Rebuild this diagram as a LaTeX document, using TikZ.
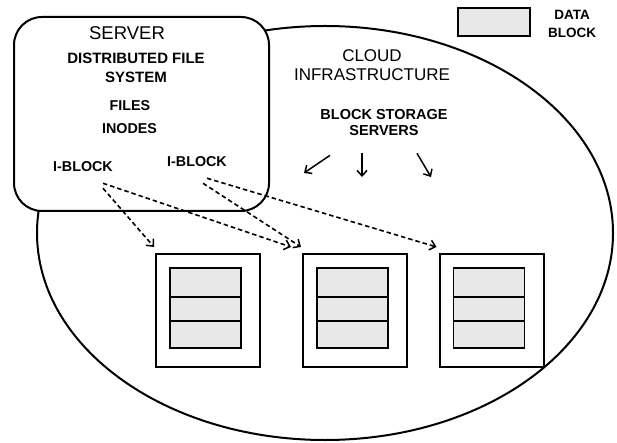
\documentclass[tikz,border=0pt]{standalone}
\usepackage{fontspec}
\setmainfont{Liberation Sans}
\usetikzlibrary{arrows.meta,calc,shapes.geometric}
\begin{document}
\begin{tikzpicture}[x=1pt,y=-1pt,
  outline/.style={draw=black,line width=2pt},
  lbl/.style={font=\fontsize{14.3}{16}\selectfont\bfseries,inner sep=0pt,align=center},
  big/.style={font=\fontsize{18.5}{19}\selectfont,inner sep=0pt,align=center},
  cell/.style={draw=black,line width=1.7pt,fill=black!9,inner sep=0pt,minimum width=71pt},
  storebox/.style={draw=black,line width=2pt,fill=white,inner sep=0pt,minimum width=104pt,minimum height=113pt},
  solidarrow/.style={line width=1.5pt,-{Straight Barb[length=5.5pt,width=10pt,line width=1.5pt]}},
  dasharrow/.style={line width=1.6pt,dash pattern=on 4.5pt off 3pt,-{Straight Barb[length=5.5pt,width=10pt,line width=1.5pt]}}
]
\useasboundingbox (0,0) rectangle (617,443);
% cloud
\node[outline,ellipse,minimum width=576pt,minimum height=414pt,inner sep=0pt] (cloud) at (325,233) {};
% server
\node[outline,fill=white,rounded corners=28pt,minimum width=255pt,minimum height=194pt,inner sep=0pt] (server) at (141.5,114) {};
\node[big] (srvtitle) at (127,33) {SERVER};
\node[lbl,font=\fontsize{15}{19}\selectfont\bfseries] (dfs) at (136,67.5) {DISTRIBUTED FILE\\SYSTEM};
\node[lbl] (files) at (130,106) {FILES};
\node[lbl] (inodes) at (129.5,129) {INODES};
\node[lbl] (ib1) at (83,167) {I-BLOCK};
\node[lbl] (ib2) at (197,162) {I-BLOCK};
% cloud labels
\node[big,font=\fontsize{17}{19}\selectfont] (cloudlbl) at (372,65) {CLOUD\\INFRASTRUCTURE};
\node[lbl,font=\fontsize{14.5}{16}\selectfont\bfseries] (bss) at (384,122.5) {BLOCK STORAGE\\SERVERS};
% legend
\node[cell,minimum width=72pt,minimum height=28pt] (legend) at (494,22) {};
\node[lbl,font=\fontsize{13.5}{18}\selectfont\bfseries] (legendtxt) at (572,24) {DATA\\BLOCK};
% storage boxes
\foreach \n/\cx in {s1/208,s2/355,s3/491.5}{
  \node[storebox] (\n) at (\cx,310.5) {};
  \node[cell,minimum height=29pt] (\n a) at (\cx-2.5,282.5) {};
  \node[cell,minimum height=24pt] (\n b) at (\cx-2.5,309) {};
  \node[cell,minimum height=27pt] (\n c) at (\cx-2.5,334.5) {};
}
% solid arrows
\coordinate (a1s) at ([shift={(-54,19.5)}]bss.south);
\coordinate (a1e) at (304,173);
\coordinate (a2s) at ([shift={(-22,17.5)}]bss.south);
\coordinate (a2e) at (362,177);
\coordinate (a3s) at ([shift={(33,17.5)}]bss.south);
\coordinate (a3e) at (431,177);
\draw[solidarrow] (a1s) -- (a1e);
\draw[solidarrow] (a2s) -- (a2e);
\draw[solidarrow] (a3s) -- (a3e);
% dashed arrows
\draw[dasharrow] ([shift={(20,16)}]ib1.south) -- ([shift={(-1,-6)}]s1.north west);
\draw[dasharrow] ([shift={(20,11)}]ib1.south) -- ([shift={(-11,-6)}]s2.north west);
\draw[dasharrow] ([shift={(6,16)}]ib2.south) -- ([shift={(-1,-6)}]s2.north west);
\draw[dasharrow] ([shift={(10,11)}]ib2.south) -- ([shift={(-2,-6)}]s3.north west);
\end{tikzpicture}
\end{document}
